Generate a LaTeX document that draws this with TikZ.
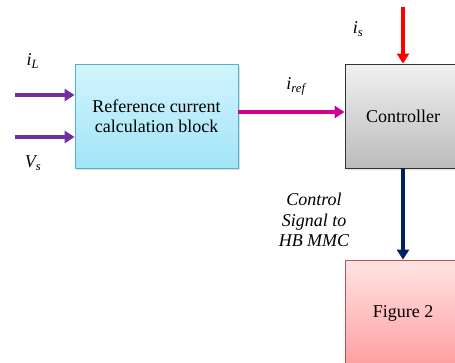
\documentclass[tikz,border=0pt]{standalone}
\usepackage{fontspec}
\setmainfont{Liberation Serif}
\usepackage{tikz}
\usetikzlibrary{arrows.meta,shadows}

\definecolor{cyantop}{HTML}{D2F4FC}
\definecolor{cyanbot}{HTML}{A2E4F8}
\definecolor{cyanline}{HTML}{4FB3CF}
\definecolor{graytop}{HTML}{F0F0F0}
\definecolor{graybot}{HTML}{BCBCBC}
\definecolor{pinktop}{HTML}{FFE4E4}
\definecolor{pinkbot}{HTML}{FF9E9E}
\definecolor{pinkline}{HTML}{C0504D}
\definecolor{sigpurple}{HTML}{7030A0}
\definecolor{sigmagenta}{HTML}{CC0099}
\definecolor{signavy}{HTML}{002060}

\tikzset{
  block/.style={draw, line width=0.8, minimum width=116, minimum height=104,
    align=center, font=\fontsize{18}{20.5}\selectfont,
    drop shadow={shadow xshift=1.5pt, shadow yshift=-1.5pt, opacity=0.25}},
  sig/.style={-{Triangle[length=10pt,width=12pt]}, line width=3.5},
  lbl/.style={font=\fontsize{18}{20.5}\selectfont\itshape, align=center}
}

\begin{document}
\begin{tikzpicture}[x=1pt, y=-1pt]

\useasboundingbox (0,0) rectangle (455,362);

% blocks

\node[block, draw=cyanline, top color=cyantop, bottom color=cyanbot, minimum width=163] (refblock) at (156.5,116) {Reference current\\calculation block};
\node[block, draw=black!80, top color=graytop, bottom color=graybot] (ctrl) at (403,116) {Controller};
\node[block, draw=pinkline, top color=pinktop, bottom color=pinkbot, minimum height=106] (fig2) at (403,313) {Figure 2};

% free ends

\coordinate (iLin) at (15,95);
\coordinate (Vsin) at (15,137);
\coordinate (isin) at (403,7);

% labels

\node[lbl] (iL) at (33,61) {i\textsubscript{L}};
\node[lbl] (Vs) at (33,163) {V\textsubscript{s}};
\node[lbl] (iref) at (296,86) {i\textsubscript{ref}};
\node[lbl] (is) at (358,29) {i\textsubscript{s}};
\node[lbl] (ctrlsig) at (314,220) {Control\\Signal to\\HB MMC};

% inputs
\draw [sig, color=sigpurple] (iLin) -- (iLin -| refblock.west);
\draw [sig, color=sigpurple] (Vsin) -- (Vsin -| refblock.west);

% reference to controller
\draw [sig, color=sigmagenta] ([yshift=4pt]refblock.east) -- ([yshift=4pt]ctrl.west);
\draw [sig, color=red] (isin) -- (ctrl.north);

% controller to figure 2
\draw [sig, color=signavy] (ctrl.south) -- (fig2.north);

\end{tikzpicture}
\end{document}
